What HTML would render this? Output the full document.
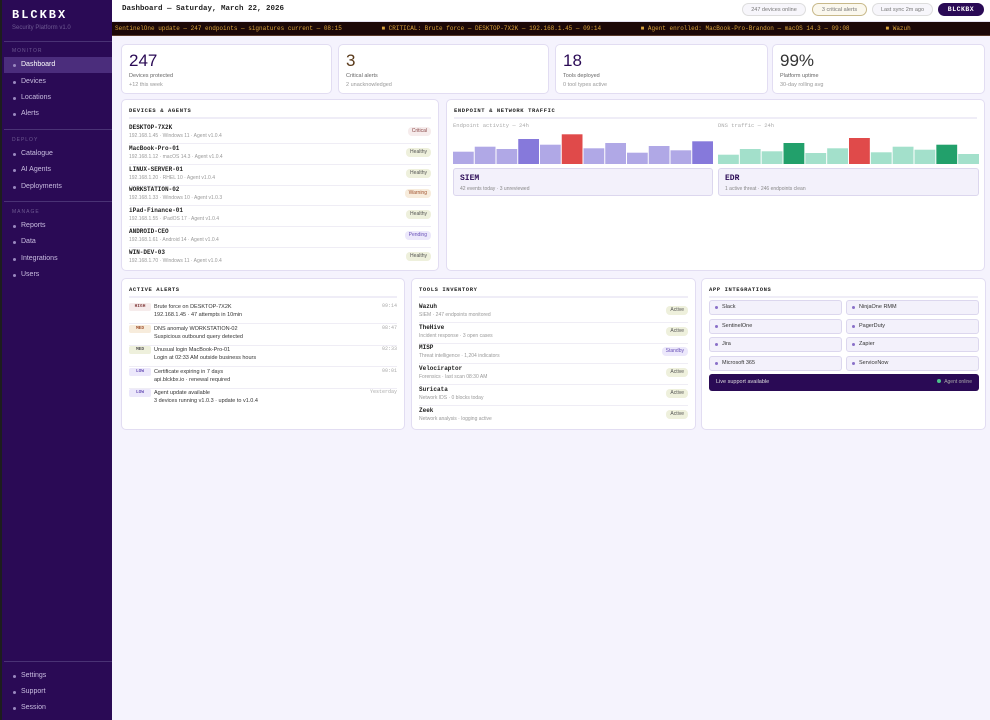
<!DOCTYPE html>
<html><head><meta charset="utf-8">
<style>
*{box-sizing:border-box;margin:0;padding:0}
body{width:990px;height:720px;overflow:hidden;background:#f5f3fd;font-family:"Liberation Sans",sans-serif;position:relative;color:#222}
.abs{position:absolute}
#sb{left:0;top:0;width:112px;height:720px;background:#2a0a55;border-left:2px solid #1d1d1d}
.logo{left:10px;top:8px;color:#fff;font:bold 12px "Liberation Mono",monospace;letter-spacing:2px}
.ver{left:10px;top:25px;color:#6e5a92;font-size:6px}
.div{left:2px;width:108px;height:1px;background:#4a3275}
.sec{left:10px;color:#6e5a92;font-size:5px;letter-spacing:1px}
.nav{left:2px;width:108px;height:16px;color:#c9bde0;font-size:7px;line-height:16px;padding-left:17px}
.nav:before{content:"";position:absolute;left:9px;top:7px;width:3px;height:3px;border-radius:50%;background:#9a88c0}
.nav.act{background:#4b2d7c;color:#fff}
#hdr{left:112px;top:0;width:878px;height:22px;background:#fff;border-bottom:1px solid #e4e0f0}
.pill{top:3px;height:13px;border-radius:7px;font-size:5.5px;display:flex;align-items:center;justify-content:center;border:1px solid #ddd;color:#777;background:#f7f6fb}
#tick{left:112px;top:22px;width:878px;height:14px;background:#1c0808;color:#d9a23c;font:6px "Liberation Mono",monospace;line-height:14px;white-space:nowrap;overflow:hidden;border-bottom:1px solid #5a3a2a;padding-left:3px}
.card{background:#fff;border:1px solid #e2ddf2;border-radius:5px}
.big{font-size:17px;color:#2a0a55;position:absolute;left:7px;top:6px}
.lbl{position:absolute;left:7px;font-size:5.5px;color:#666}
.ttl{position:absolute;left:7px;top:7px;font:bold 5.5px "Liberation Mono",monospace;letter-spacing:.6px;color:#222}
.hl{position:absolute;left:7px;right:7px;top:17px;height:2px;background:#efedf7}
.row{position:absolute;left:7px;right:7px;border-bottom:1px solid #efedf5}
.nm{font:bold 6px "Liberation Mono",monospace;color:#222;position:absolute;left:0;top:0}
.sub{font-size:5px;color:#999;position:absolute;left:0;top:9px;white-space:nowrap}
.bd{position:absolute;right:0;top:3px;height:9px;padding:0 4px;border-radius:4px;font-size:5px;line-height:9px}
.ok{background:#eef0dc;color:#555}
.crit{background:#f6ecec;color:#844}
.warn{background:#f7ecdc;color:#a0522d}
.pend{background:#ece8fb;color:#6a52b8}
.ib{position:absolute;height:15px;background:#f3f1fb;border:1px solid #dcd7ee;border-radius:3px;font-size:5.5px;line-height:13px;padding-left:12px;color:#333}
.ib:before{content:"";position:absolute;left:5px;top:5px;width:3px;height:3px;border-radius:50%;background:#8a70c8}
.sev{position:absolute;left:0;top:0;width:22px;height:8px;border-radius:2px;font:bold 4.5px "Liberation Mono",monospace;line-height:8px;text-align:center}
.at{position:absolute;left:25px;top:0;font-size:5.5px;color:#333;line-height:8px}
.tm{position:absolute;right:0;top:0;font:5px "Liberation Mono",monospace;color:#aaa}
</style></head><body>
<div id="sb" class="abs">
<div class="abs logo">BLCKBX</div>
<div class="abs ver">Security Platform v1.0</div>
<div class="abs div" style="top:41px"></div>
<div class="abs sec" style="top:48px">MONITOR</div>
<div class="abs nav act" style="top:57px">Dashboard</div>
<div class="abs nav" style="top:74px">Devices</div>
<div class="abs nav" style="top:90px">Locations</div>
<div class="abs nav" style="top:106px">Alerts</div>
<div class="abs div" style="top:129px"></div>
<div class="abs sec" style="top:137px">DEPLOY</div>
<div class="abs nav" style="top:146px">Catalogue</div>
<div class="abs nav" style="top:162px">AI Agents</div>
<div class="abs nav" style="top:179px">Deployments</div>
<div class="abs div" style="top:201px"></div>
<div class="abs sec" style="top:209px">MANAGE</div>
<div class="abs nav" style="top:218px">Reports</div>
<div class="abs nav" style="top:234px">Data</div>
<div class="abs nav" style="top:251px">Integrations</div>
<div class="abs nav" style="top:267px">Users</div>
<div class="abs div" style="top:661px"></div>
<div class="abs nav" style="top:668px">Settings</div>
<div class="abs nav" style="top:684px">Support</div>
<div class="abs nav" style="top:700px">Session</div>
</div>

<div id="hdr" class="abs">
<div class="abs" style="left:10px;top:5px;font:bold 7.5px 'Liberation Mono',monospace;color:#222">Dashboard — Saturday, March 22, 2026</div>
<div class="abs pill" style="left:630px;width:64px">247 devices online</div>
<div class="abs pill" style="left:700px;width:55px;border-color:#c8b98a;background:#fbf8ee">3 critical alerts</div>
<div class="abs pill" style="left:760px;width:61px">Last sync 2m ago</div>
<div class="abs pill" style="left:826px;width:46px;background:#2a0a55;border-color:#2a0a55;color:#fff;font:bold 6.5px 'Liberation Mono',monospace;letter-spacing:.5px">BLCKBX</div>
</div>
<div id="tick" class="abs">SentinelOne update — 247 endpoints — signatures current — 08:15 &nbsp;&nbsp;&nbsp;&nbsp;&nbsp;&nbsp;&nbsp;&nbsp;&nbsp;&nbsp;■ CRITICAL: Brute force — DESKTOP-7X2K — 192.168.1.45 — 09:14 &nbsp;&nbsp;&nbsp;&nbsp;&nbsp;&nbsp;&nbsp;&nbsp;&nbsp;&nbsp;■ Agent enrolled: MacBook-Pro-Brandon — macOS 14.3 — 09:08 &nbsp;&nbsp;&nbsp;&nbsp;&nbsp;&nbsp;&nbsp;&nbsp;&nbsp;■ Wazuh</div>

<div class="abs card" style="left:121px;top:44px;width:211px;height:50px"><div class="big">247</div><div class="lbl" style="top:28px">Devices protected</div><div class="lbl" style="top:37px;color:#999">+12 this week</div></div>
<div class="abs card" style="left:338px;top:44px;width:211px;height:50px"><div class="big" style="color:#5a3a1a">3</div><div class="lbl" style="top:28px">Critical alerts</div><div class="lbl" style="top:37px;color:#999">2 unacknowledged</div></div>
<div class="abs card" style="left:555px;top:44px;width:213px;height:50px"><div class="big">18</div><div class="lbl" style="top:28px">Tools deployed</div><div class="lbl" style="top:37px;color:#999">0 tool types active</div></div>
<div class="abs card" style="left:772px;top:44px;width:213px;height:50px"><div class="big" style="color:#333">99%</div><div class="lbl" style="top:28px">Platform uptime</div><div class="lbl" style="top:37px;color:#999">30-day rolling avg</div></div>

<div class="abs card" style="left:121px;top:99px;width:318px;height:172px">
<div class="ttl">DEVICES &amp; AGENTS</div><div class="hl"></div>
<div id="devrows"></div>
</div>

<div class="abs card" style="left:446px;top:99px;width:539px;height:172px">
<div class="ttl">ENDPOINT &amp; NETWORK TRAFFIC</div><div class="hl"></div>
<svg id="chart" class="abs" style="left:0;top:0" width="539" height="172"></svg>
<div class="abs" style="left:6px;top:68px;width:260px;height:28px;background:#f3f1fb;border:1px solid #dcd7ee;border-radius:3px"><div class="abs" style="left:6px;top:5px;font:bold 8px 'Liberation Mono',monospace;color:#2a0a55">SIEM</div><div class="abs" style="left:6px;top:17px;font-size:5px;color:#888">42 events today · 3 unreviewed</div></div>
<div class="abs" style="left:271px;top:68px;width:261px;height:28px;background:#f3f1fb;border:1px solid #dcd7ee;border-radius:3px"><div class="abs" style="left:6px;top:5px;font:bold 8px 'Liberation Mono',monospace;color:#2a0a55">EDR</div><div class="abs" style="left:6px;top:17px;font-size:5px;color:#888">1 active threat · 246 endpoints clean</div></div>
</div>

<div class="abs card" style="left:121px;top:278px;width:284px;height:152px">
<div class="ttl">ACTIVE ALERTS</div><div class="hl"></div>
<div id="alertrows"></div>
</div>
<div class="abs card" style="left:411px;top:278px;width:285px;height:152px">
<div class="ttl">TOOLS INVENTORY</div><div class="hl"></div>
<div id="toolrows"></div>
</div>
<div class="abs card" style="left:701px;top:278px;width:285px;height:152px">
<div class="ttl">APP INTEGRATIONS</div><div class="hl"></div>
<div id="introws"></div>
<div class="abs" style="left:7px;top:95px;width:270px;height:17px;background:#2a0a55;border-radius:3px;color:#ddd;font-size:5.5px;line-height:17px;padding-left:7px">Live support available<span style="position:absolute;right:7px;color:#aaa;font-size:5px"><span style="display:inline-block;width:4px;height:4px;border-radius:50%;background:#4cc38a;margin-right:3px"></span>Agent online</span></div>
</div>

<script>
const devices=[["DESKTOP-7X2K","192.168.1.45 · Windows 11 · Agent v1.0.4","Critical","crit"],["MacBook-Pro-01","192.168.1.12 · macOS 14.3 · Agent v1.0.4","Healthy","ok"],["LINUX-SERVER-01","192.168.1.20 · RHEL 10 · Agent v1.0.4","Healthy","ok"],["WORKSTATION-02","192.168.1.33 · Windows 10 · Agent v1.0.3","Warning","warn"],["iPad-Finance-01","192.168.1.55 · iPadOS 17 · Agent v1.0.4","Healthy","ok"],["ANDROID-CEO","192.168.1.61 · Android 14 · Agent v1.0.4","Pending","pend"],["WIN-DEV-03","192.168.1.70 · Windows 11 · Agent v1.0.4","Healthy","ok"]];
const dr=document.getElementById('devrows');
devices.forEach((d,i)=>{const r=document.createElement('div');r.className='row';r.style.top=(24+i*20.8)+'px';r.style.height='20px';


r.innerHTML=`<div class="nm">${d[0]}</div><div class="sub">${d[1]}</div><div class="bd ${d[3]}">${d[2]}</div>`;if(i==6)r.style.borderBottom='none';dr.appendChild(r);});

const alerts=[["HIGH","crit","Brute force on DESKTOP-7X2K","192.168.1.45 · 47 attempts in 10min","09:14"],["MED","warn","DNS anomaly WORKSTATION-02","Suspicious outbound query detected","08:47"],["MED","ok","Unusual login MacBook-Pro-01","Login at 02:33 AM outside business hours","02:33"],["LOW","pend","Certificate expiring in 7 days","api.blckbx.io · renewal required","00:01"],["LOW","pend","Agent update available","3 devices running v1.0.3 · update to v1.0.4","Yesterday"]];
const ar=document.getElementById('alertrows');
alerts.forEach((a,i)=>{const r=document.createElement('div');r.className='row';r.style.top=(24+i*21.5)+'px';r.style.height='21px';


r.innerHTML=`<div class="sev ${a[1]}">${a[0]}</div><div class="at">${a[2]}<br>${a[3]}</div><div class="tm">${a[4]}</div>`;if(i==4)r.style.borderBottom='none';ar.appendChild(r);});

const tools=[["Wazuh","SIEM · 247 endpoints monitored","Active","ok"],["TheHive","Incident response · 3 open cases","Active","ok"],["MISP","Threat intelligence · 1,204 indicators","Standby","pend"],["Velociraptor","Forensics · last scan 08:30 AM","Active","ok"],["Suricata","Network IDS · 0 blocks today","Active","ok"],["Zeek","Network analysis · logging active","Active","ok"]];
const tr=document.getElementById('toolrows');
tools.forEach((d,i)=>{const r=document.createElement('div');r.className='row';r.style.top=(24+i*20.7)+'px';r.style.height='20px';


r.innerHTML=`<div class="nm">${d[0]}</div><div class="sub">${d[1]}</div><div class="bd ${d[3]}">${d[2]}</div>`;if(i==5)r.style.borderBottom='none';tr.appendChild(r);});

const apps=["Slack","NinjaOne RMM","SentinelOne","PagerDuty","Jira","Zapier","Microsoft 365","ServiceNow"];
const ir=document.getElementById('introws');
apps.forEach((a,i)=>{const b=document.createElement('div');b.className='ib';b.style.left=(i%2?144:7)+'px';b.style.top=(21+Math.floor(i/2)*18.5)+'px';b.style.width='133px';b.textContent=a;


ir.appendChild(b);});
</script>
<script>
// chart data
const endpointValues=[12.3,17.3,15,25,19.3,29.7,15.7,21,11.3,18,13.7,22.7];
const endpointStatus=["n","n","n","h","n","c","n","n","n","n","n","h"];
const dnsValues=[9.3,15,12.7,21,11,15.7,26,11.7,17.3,14.3,19.3,10];
const dnsStatus=["n","n","n","h","n","n","c","n","n","n","h","n"];
const chartTitles=["Endpoint activity — 24h","DNS traffic — 24h"];
const NS='http://www.w3.org/2000/svg';
const svg=document.getElementById('chart');
const yMax=30, baseY=64, plotH=30;
function yScale(v){return plotH*v/yMax;}
function drawSeries(vals,status,x0,w,title,pal,name){
  const t=document.createElementNS(NS,'text');t.setAttribute('x',x0);t.setAttribute('y',27);t.setAttribute('font-family','Liberation Mono, monospace');t.setAttribute('font-size','5.5');t.setAttribute('fill','#aaa');t.textContent=title;
  
  
  svg.appendChild(t);
  const bw=w/vals.length;
  vals.forEach((v,i)=>{const h=yScale(v);const r=document.createElementNS(NS,'rect');
    r.setAttribute('x',x0+i*bw);r.setAttribute('y',baseY-h);r.setAttribute('width',bw-1);r.setAttribute('height',h);r.setAttribute('fill',pal[status[i]]);
    
    
    svg.appendChild(r);});
}
drawSeries(endpointValues,endpointStatus,6,261,chartTitles[0],{n:'#b0a8e6',h:'#8679db',c:'#e04a4a'},'endpoint');
drawSeries(dnsValues,dnsStatus,271,262,chartTitles[1],{n:'#a3e0cb',h:'#22a06b',c:'#e04a4a'},'dns');
</script>
</body></html>
